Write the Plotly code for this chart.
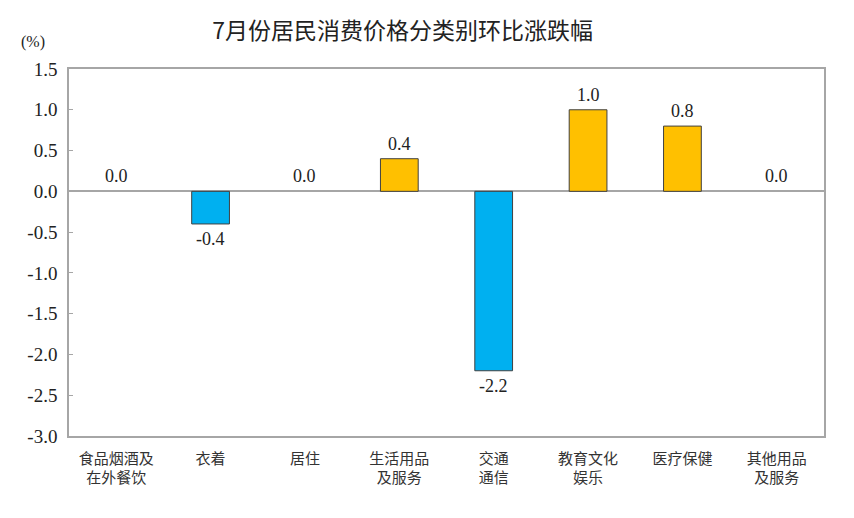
import plotly.graph_objects as go

categories = ["食品烟酒及<br>在外餐饮", "衣着", "居住", "生活用品<br>及服务",
              "交通<br>通信", "教育文化<br>娱乐", "医疗保健", "其他用品<br>及服务"]
values = [0.0, -0.4, 0.0, 0.4, -2.2, 1.0, 0.8, 0.0]
y_ticks = [1.5, 1.0, 0.5, 0.0, -0.5, -1.0, -1.5, -2.0, -2.5, -3.0]

colors = ["#FFC000" if v >= 0 else "#00B0F0" for v in values]
# no outline on zero-height bars
outline = [0 if v == 0 else 1 for v in values]

serif = "Liberation Serif"

fig = go.Figure()
fig.add_trace(go.Bar(
    x=categories, y=values,
    marker=dict(color=colors, line=dict(color="#404040", width=outline)),
    width=0.4,
))

# value labels above positive bars, below negative ones
for cat, v in zip(categories, values):
    fig.add_annotation(
        x=cat, y=v, text=f"{v:.1f}", showarrow=False,
        yanchor="bottom" if v >= 0 else "top",
        yshift=3 if v >= 0 else -3,
        font=dict(family=serif, size=18, color="#222222"),
    )

fig.add_annotation(
    x=0, xref="paper", xanchor="right", xshift=-22,
    y=1.5, yanchor="bottom", yshift=16,
    text="(%)", showarrow=False,
    font=dict(family=serif, size=16, color="#222222"),
)

fig.update_layout(
    width=854, height=518,
    margin=dict(l=61, r=38, t=61, b=90),
    paper_bgcolor="white", plot_bgcolor="white",
    title=dict(text="7月份居民消费价格分类别环比涨跌幅", x=0.462, xanchor="center",
               y=0.955, yanchor="middle",
               font=dict(family="Noto Sans CJK SC", size=23, color="#222222")),
    showlegend=False,
)
fig.update_xaxes(
    showline=True, linecolor="#a6a6a6", linewidth=1.5, mirror=True,
    ticks="", ticklabelstandoff=8,
    tickfont=dict(family="Noto Sans CJK SC", size=15, color="#333333"),
)
fig.update_yaxes(
    range=[-3.0, 1.5], tickvals=y_ticks, ticktext=[f"{t:.1f}" for t in y_ticks],
    showgrid=False, zeroline=True, zerolinecolor="#a6a6a6", zerolinewidth=1.5,
    showline=True, linecolor="#a6a6a6", linewidth=1.5, mirror=True,
    ticks="inside", ticklen=4, tickcolor="#a6a6a6", ticklabelstandoff=6,
    tickfont=dict(family=serif, size=19, color="#222222"),
)

fig.write_html("out.html")
